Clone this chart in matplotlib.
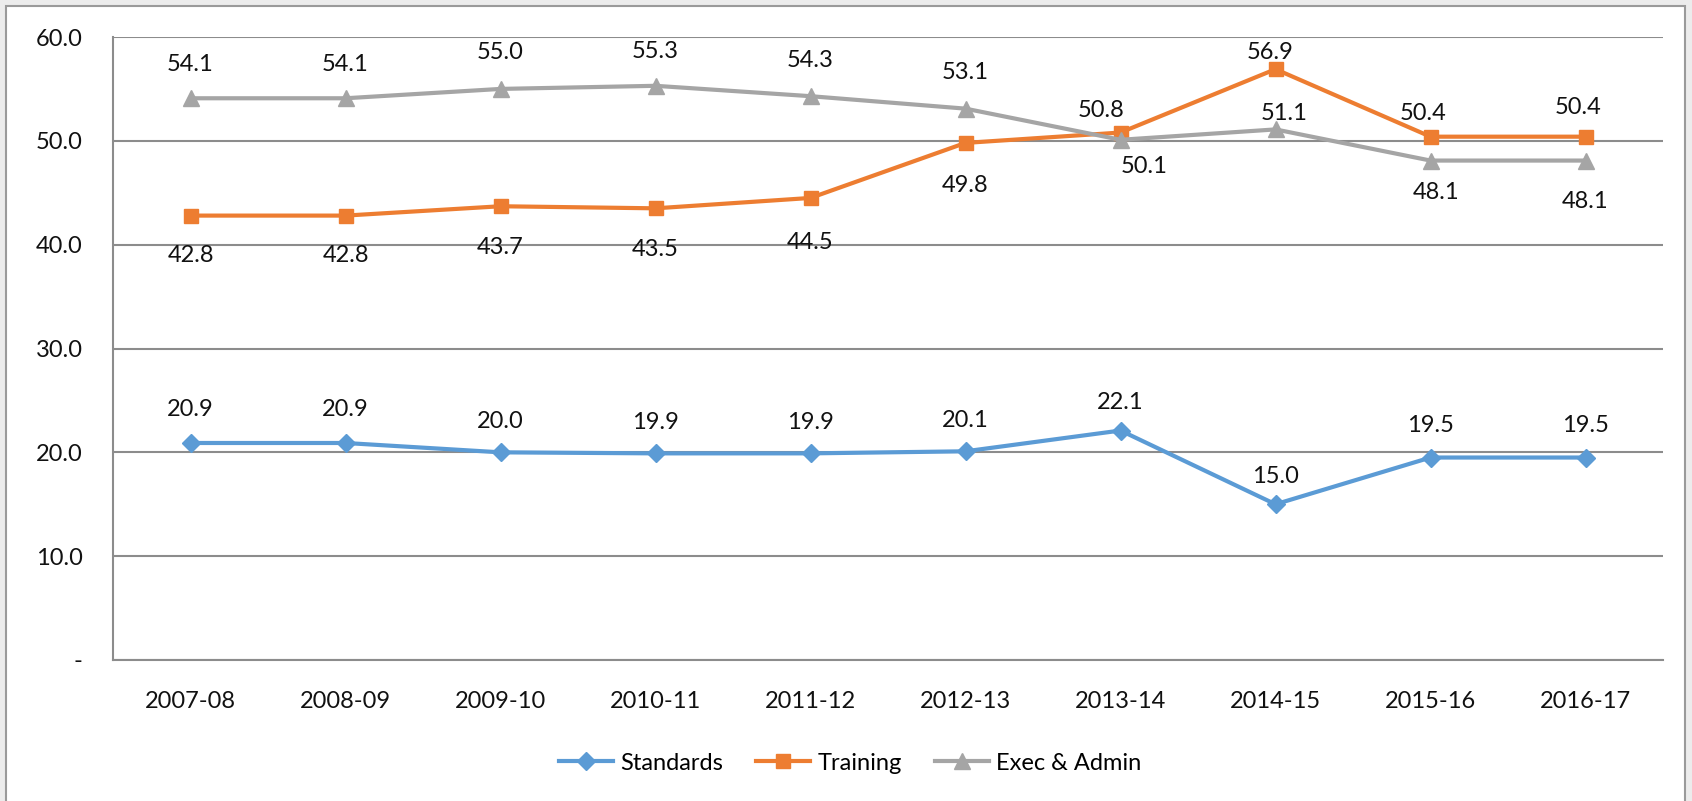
import matplotlib
matplotlib.use("Agg")
import matplotlib.pyplot as plt
from matplotlib.patches import Rectangle

plt.rcParams['font.family'] = ['Lato', 'DejaVu Sans']

years = ['2007-08', '2008-09', '2009-10', '2010-11', '2011-12',
         '2012-13', '2013-14', '2014-15', '2015-16', '2016-17']
standards = [20.9, 20.9, 20.0, 19.9, 19.9, 20.1, 22.1, 15.0, 19.5, 19.5]
training = [42.8, 42.8, 43.7, 43.5, 44.5, 49.8, 50.8, 56.9, 50.4, 50.4]
exec_admin = [54.1, 54.1, 55.0, 55.3, 54.3, 53.1, 50.1, 51.1, 48.1, 48.1]

# data label nudges (points) as they were placed in the original chart
std_dy = [24, 24, 22, 22, 22, 22, 20, 20, 23, 23]
std_dx = [0] * 10
train_dy = [-29, -29, -30, -30, -32, -31, 16, 12, 16.5, 21]
train_dx = [0, 0, 0, 0, 0, 0, -14, -4, -5, -5]
exec_dy = [24.5, 24.5, 26, 25, 26, 26, -19.5, 11.5, -23, -29.5]
exec_dx = [0, 0, 0, 0, 0, 0, 17, 6, 4, 0]

blue = '#5b9bd5'
orange = '#ed7d31'
grey = '#a5a5a5'
grid_c = '#8c8c8c'

fig = plt.figure(figsize=(16.92, 8.01), dpi=100, facecolor='#ececec')
fig.patches.append(Rectangle((6 / 1692, -0.01), (1685 - 6) / 1692, 1 - 6 / 801 + 0.01,
                             transform=fig.transFigure, facecolor='white',
                             edgecolor='#9a9a9a', linewidth=1.5, zorder=-5))
ax = fig.add_axes([113 / 1692, 1 - 660 / 801, 1550 / 1692, (660 - 37) / 801])
ax.set_facecolor('none')
ax.set_zorder(2)

x = list(range(len(years)))
ax.plot(x, standards, color=blue, lw=3, marker='D', ms=9, label='Standards', zorder=3)
ax.plot(x, training, color=orange, lw=3, marker='s', ms=10, label='Training', zorder=3)
ax.plot(x, exec_admin, color=grey, lw=3, marker='^', ms=11, label='Exec & Admin', zorder=3)

for series, dxs, dys in [(standards, std_dx, std_dy), (training, train_dx, train_dy),
                         (exec_admin, exec_dx, exec_dy)]:
    for xi, v in enumerate(series):
        ax.annotate(f'{v:.1f}', (xi, v), xytext=(dxs[xi], dys[xi]), textcoords='offset points',
                    ha='center', va='center', fontsize=17, color='#111111', zorder=4)

ax.set_xlim(-0.5, len(years) - 0.5)
ax.set_ylim(0, 60)
ax.set_yticks([0, 10, 20, 30, 40, 50, 60])
ax.set_yticklabels(['-', '10.0', '20.0', '30.0', '40.0', '50.0', '60.0'])
ax.set_xticks(x)
ax.set_xticklabels(years)
ax.tick_params(axis='both', length=0, labelsize=17, colors='#111111')
ax.tick_params(axis='y', pad=22)
ax.tick_params(axis='x', pad=22)
ax.grid(axis='y', color=grid_c, lw=1.5)
ax.set_axisbelow(True)
for side in ['top', 'right']:
    ax.spines[side].set_visible(False)
for side in ['left', 'bottom']:
    ax.spines[side].set_color(grid_c)
    ax.spines[side].set_linewidth(1.5)

fig.legend(loc='center', bbox_to_anchor=(850 / 1692, 1 - 763 / 801), ncol=3, frameon=False,
           fontsize=17, handlelength=2.3, columnspacing=1.4, handletextpad=0.3)

fig.savefig('out.png', dpi=100, facecolor=fig.get_facecolor())
